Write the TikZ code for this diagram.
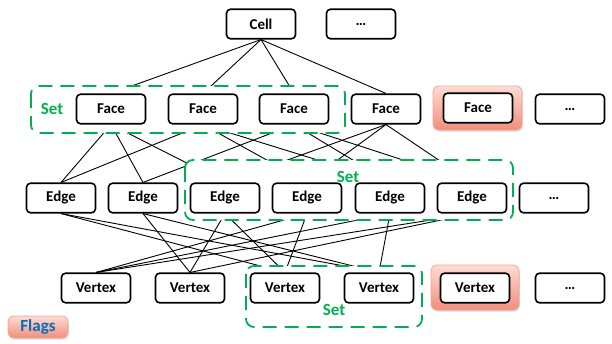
\documentclass[tikz,border=0pt]{standalone}
\usepackage{fontspec}
\setmainfont{Carlito}
\usetikzlibrary{shadows}
\definecolor{setgreen}{HTML}{00B050}
\definecolor{flagblue}{HTML}{0070C0}
\definecolor{pinktop}{HTML}{FDDCD4}
\definecolor{pinkbot}{HTML}{F28D7A}
\definecolor{pinkedge}{HTML}{F3A595}
\pgfdeclarelayer{links}
\pgfdeclarelayer{sets}
\pgfsetlayers{links,sets,main}

\begin{document}
\begin{tikzpicture}[x=1pt,y=1pt,
  cellbox/.style={draw=black, line width=1.6pt, rounded corners=4pt, fill=white,
    minimum width=69pt, minimum height=29.5pt, inner sep=0pt,
    font=\bfseries\fontsize{15}{15}\selectfont},
  link/.style={draw=black, line width=0.9pt},
  setbox/.style={draw=setgreen, line width=1.8pt, dash pattern=on 14pt off 8pt,
    rounded corners=8pt, fill=white},
  setlabel/.style={text=setgreen, font=\bfseries\fontsize{17}{17}\selectfont},
  glowbox/.style={draw=pinkedge, line width=0.8pt, rounded corners=6pt,
    top color=pinktop, bottom color=pinkbot, inner sep=0pt,
    drop shadow={shadow xshift=0.8pt, shadow yshift=-1.5pt, opacity=0.3}}
]
\useasboundingbox (0,0) rectangle (612,-343);

% ---- top level
\node[cellbox] (cell) at (261,-24) {Cell};
\node[cellbox] (cellmore) at (361,-24) {…};

% ---- faces
\node[glowbox, minimum width=89pt, minimum height=44pt] (f5glow) at (477.5,-108) {};
\node[cellbox] (f1) at (111,-109) {Face};
\node[cellbox] (f2) at (203,-109) {Face};
\node[cellbox] (f3) at (294,-109) {Face};
\node[cellbox] (f4) at (386,-109) {Face};
\node[cellbox] (f5) at (478,-108) {Face};
\node[cellbox] (fmore) at (570,-109) {…};

% ---- edges
\node[cellbox] (e1) at (61,-198) {Edge};
\node[cellbox] (e2) at (143,-198) {Edge};
\node[cellbox] (e3) at (225,-198) {Edge};
\node[cellbox] (e4) at (307,-198) {Edge};
\node[cellbox] (e5) at (390,-198) {Edge};
\node[cellbox] (e6) at (472,-198) {Edge};
\node[cellbox] (emore) at (554,-198) {…};

% ---- vertices
\node[glowbox, minimum width=88pt, minimum height=45pt] (v5glow) at (475,-287.5) {};
\node[cellbox] (v1) at (96,-288) {Vertex};
\node[cellbox] (v2) at (190,-288) {Vertex};
\node[cellbox] (v3) at (285,-288) {Vertex};
\node[cellbox] (v4) at (379,-288) {Vertex};
\node[cellbox] (v5) at (475,-288) {Vertex};
\node[cellbox] (vmore) at (570,-288) {…};

% ---- flags legend
\node[glowbox, minimum width=60pt, minimum height=22pt, text=flagblue,
  font=\bfseries\fontsize{17}{17}\selectfont] (flags) at (38,-327) {Flags};

% ---- set labels
\node[setlabel] (fsetlabel) at (52,-109) {Set};
\node[setlabel] (esetlabel) at (348,-177) {Set};
\node[setlabel] (vsetlabel) at (334,-310) {Set};

% ---- set frames (white fill hides the links running behind them)
\begin{pgfonlayer}{sets}
  \draw[setbox] (31,-86) rectangle (345,-133);
  \draw[setbox] (185,-160) rectangle (513,-220);
  \draw[setbox] (246,-266) rectangle (422,-327);
\end{pgfonlayer}

% ---- incidence links
\begin{pgfonlayer}{links}
  \foreach \f in {f1,f2,f3,f4}
    \draw[link] (cell.south) -- (\f.north);
  \foreach \f/\e in {f1/e1,f1/e2,f1/e3, f2/e1,f2/e4,f2/e5,
                     f3/e2,f3/e5,f3/e6, f4/e3,f4/e4,f4/e6}
    \draw[link] (\f.south) -- (\e.north);
  \foreach \e/\v in {e1/v3,e1/v4, e2/v2,e2/v4, e3/v2,e3/v3,
                     e4/v1,e4/v3, e5/v1,e5/v4, e6/v1,e6/v2}
    \draw[link] (\e.south) -- (\v.north);
\end{pgfonlayer}
\end{tikzpicture}
\end{document}
